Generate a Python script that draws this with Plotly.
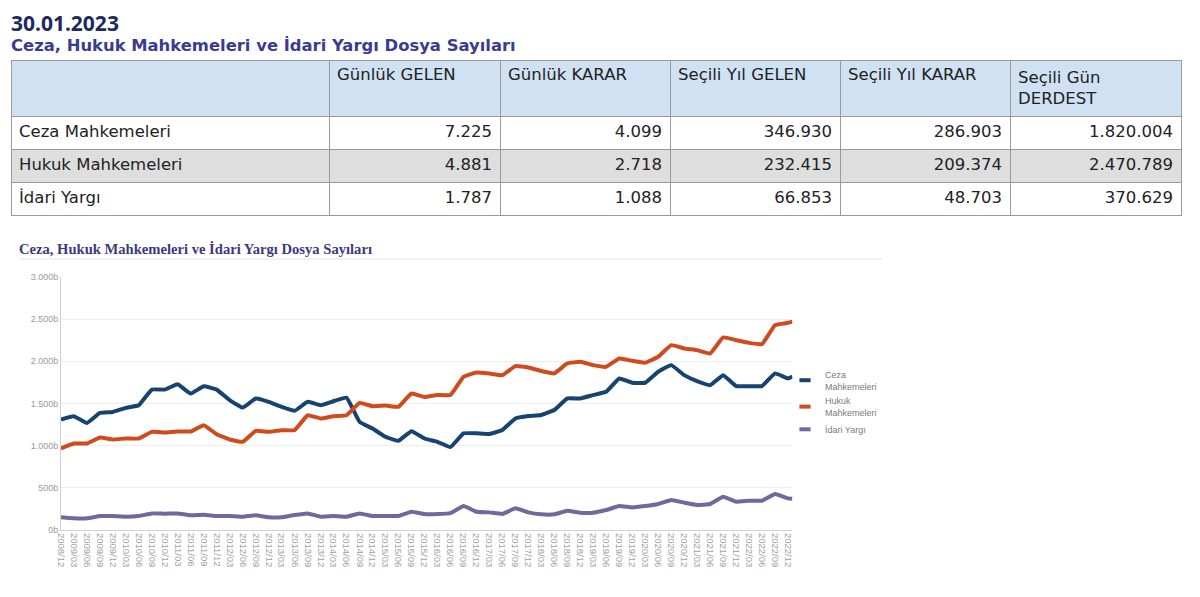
import plotly.graph_objects as go

# The page body has an 8px margin, so the figure is drawn 8px in from the window edge.
OFF = 8
W, H = 1192, 589
def px(x): return (x - OFF) / W
def py(y): return 1 - (y - OFF) / H

# ---------------- table data ----------------
table_header = ["", "Günlük GELEN", "Günlük KARAR", "Seçili Yıl GELEN", "Seçili Yıl KARAR", "Seçili Gün<br>DERDEST"]
row_names = ["Ceza Mahkemeleri", "Hukuk Mahkemeleri", "İdari Yargı"]
gunluk_gelen = ["7.225", "4.881", "1.787"]
gunluk_karar = ["4.099", "2.718", "1.088"]
secili_yil_gelen = ["346.930", "232.415", "66.853"]
secili_yil_karar = ["286.903", "209.374", "48.703"]
secili_gun_derdest = ["1.820.004", "2.470.789", "370.629"]

# ---------------- chart data (thousands of files) ----------------
periods = ["2008/12", "2009/03", "2009/06", "2009/09", "2009/12", "2010/03", "2010/06", "2010/09", "2010/12",
           "2011/03", "2011/06", "2011/09", "2011/12", "2012/03", "2012/06", "2012/09", "2012/12",
           "2013/03", "2013/06", "2013/09", "2013/12", "2014/03", "2014/06", "2014/09", "2014/12",
           "2015/03", "2015/06", "2015/09", "2015/12", "2016/03", "2016/06", "2016/09", "2016/12",
           "2017/03", "2017/06", "2017/09", "2017/12", "2018/03", "2018/06", "2018/09", "2018/12",
           "2019/03", "2019/06", "2019/09", "2019/12", "2020/03", "2020/06", "2020/09", "2020/12",
           "2021/03", "2021/06", "2021/09", "2021/12", "2022/03", "2022/06", "2022/09", "2022/12",
           "2023/01"]
tick_labels = periods[:-1]

ceza = [1310, 1350, 1270, 1389, 1400, 1448, 1480, 1665, 1665,
        1728, 1618, 1705, 1665, 1540, 1452, 1559, 1520,
        1460, 1413, 1520, 1480, 1527, 1570, 1282, 1203,
        1105, 1058, 1172, 1085, 1046, 983, 1146, 1146,
        1138, 1185, 1323, 1351, 1363, 1422, 1560, 1560,
        1600, 1639, 1797, 1746, 1746, 1876, 1955, 1836,
        1765, 1718, 1836, 1706, 1706, 1706, 1857, 1797,
        1820]
hukuk = [967, 1026, 1026, 1097, 1073, 1085, 1085, 1164, 1156,
         1168, 1168, 1243, 1136, 1073, 1046, 1176, 1164,
         1184, 1184, 1361, 1322, 1350, 1361, 1507, 1468,
         1476, 1460, 1618, 1578, 1602, 1600, 1817, 1868,
         1856, 1836, 1943, 1927, 1885, 1857, 1975, 1995,
         1955, 1935, 2034, 2006, 1983, 2054, 2192, 2153,
         2133, 2093, 2283, 2251, 2219, 2204, 2429, 2457,
         2471]
idari = [150, 138, 138, 166, 166, 158, 166, 197, 193,
         197, 174, 182, 166, 166, 158, 174, 150,
         150, 178, 197, 158, 166, 158, 197, 166,
         166, 166, 217, 189, 189, 200, 284, 217,
         209, 190, 257, 209, 186, 186, 229, 205,
         205, 237, 284, 268, 284, 308, 355, 324,
         296, 308, 395, 336, 347, 347, 427, 375,
         371]
y_tickvals = [0, 500, 1000, 1500, 2000, 2500, 3000]
y_ticktext = ["0b", "500b", "1.000b", "1.500b", "2.000b", "2.500b", "3.000b"]

series_names = ["Ceza<br>Mahkemeleri", "Hukuk<br>Mahkemeleri", "İdari Yargı"]
series_colors = ["#16436f", "#cf4a1c", "#6e6a9e"]

dates = [p.replace("/", "-") + "-01" for p in periods]
tick_dates = dates[:-1]

fig = go.Figure()

# ---- table ----
fig.add_trace(go.Table(
    domain=dict(x=[px(11), px(1181)], y=[py(225), py(60)]),
    columnwidth=[318, 171, 170, 170, 170, 171],
    header=dict(
        values=table_header,
        fill_color="#cfe1f2",
        line=dict(color="#9a9a9a", width=1),
        align="left",
        height=52,
        font=dict(family="DejaVu Sans", size=16.5, color="#222222"),
    ),
    cells=dict(
        values=[row_names, gunluk_gelen, gunluk_karar, secili_yil_gelen, secili_yil_karar, secili_gun_derdest],
        fill_color=[["#ffffff", "#dedede", "#ffffff"]] * 6,
        line=dict(color="#9a9a9a", width=1),
        align=["left", "right", "right", "right", "right", "right"],
        height=33,
        font=dict(family="DejaVu Sans", size=16.5, color="#222222"),
    ),
))

# ---- lines ----
for name, vals, col in zip(series_names, [ceza, hukuk, idari], series_colors):
    fig.add_trace(go.Scatter(
        x=dates, y=vals, mode="lines", name=name, showlegend=False,
        line=dict(color=col, width=4, shape="spline", smoothing=0.3),
        hoverinfo="skip",
    ))
    # legend entry (short dash like the original)
    fig.add_trace(go.Scatter(
        x=[None], y=[None], mode="markers", name=name, showlegend=True,
        marker=dict(symbol="line-ew", size=8, line=dict(color=col, width=4)),
    ))

fig.update_layout(
    width=W, height=H,
    margin=dict(l=0, r=0, t=0, b=0),
    paper_bgcolor="white", plot_bgcolor="white",
    showlegend=True,
    legend=dict(
        x=px(785), y=py(362), xanchor="left", yanchor="top",
        font=dict(family="Liberation Sans", size=9, color="#7a7a7a"),
        bgcolor="rgba(0,0,0,0)", tracegroupgap=0, itemwidth=30,
    ),
    xaxis=dict(
        domain=[px(61), px(792.4)], type="date",
        range=["2008-12-01", "2023-01-01"],
        tickmode="array", tickvals=tick_dates, ticktext=tick_labels,
        tickangle=90, tickfont=dict(family="Liberation Sans", size=9.5, color="#a0a0a0"),
        showgrid=False, showline=True, linecolor="#d0d0d0", linewidth=1,
        ticks="", zeroline=False, fixedrange=True, automargin=False,
    ),
    yaxis=dict(
        domain=[py(530), py(277)], range=[0, 3000],
        tickmode="array", tickvals=y_tickvals, ticktext=y_ticktext,
        tickfont=dict(family="Liberation Sans", size=9, color="#9a9a9a"),
        showgrid=True, gridcolor="#eeeeee", gridwidth=1,
        showline=True, linecolor="#d0d0d0", linewidth=1,
        ticks="", zeroline=False, fixedrange=True, automargin=False,
    ),
)

# ---- page titles ----
fig.add_annotation(text="<b>30.01.2023</b>", xref="paper", yref="paper",
                   x=px(9), y=py(7), xanchor="left", yanchor="top", showarrow=False,
                   font=dict(family="Noto Sans", size=21, color="#1d2a5e"))
fig.add_annotation(text="<b>Ceza, Hukuk Mahkemeleri ve İdari Yargı Dosya Sayıları</b>", xref="paper", yref="paper",
                   x=px(9), y=py(34), xanchor="left", yanchor="top", showarrow=False,
                   font=dict(family="DejaVu Sans", size=16.4, color="#3b3b94"))
# ---- chart title ----
fig.add_annotation(text="<b>Ceza, Hukuk Mahkemeleri ve İdari Yargı Dosya Sayıları</b>", xref="paper", yref="paper",
                   x=px(17), y=py(239), xanchor="left", yanchor="top", showarrow=False,
                   font=dict(family="Liberation Serif", size=14.6, color="#3c3a7c"))
fig.add_shape(type="line", xref="paper", yref="paper",
              x0=px(20), x1=px(882), y0=py(259), y1=py(259),
              line=dict(color="#e2e2e2", width=1))

fig.write_html("out.html")
